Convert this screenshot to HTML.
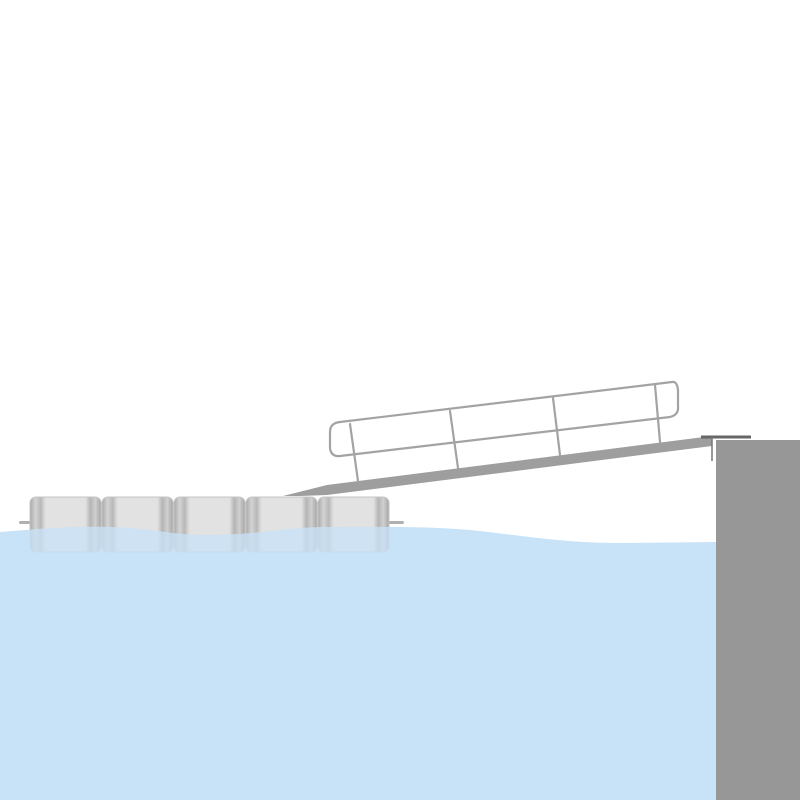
<!DOCTYPE html>
<html><head><style>html,body{margin:0;padding:0;background:#fff}svg{display:block}</style></head>
<body>
<svg width="800" height="800" viewBox="0 0 800 800" xmlns="http://www.w3.org/2000/svg">
<defs>
<linearGradient id="fg" x1="0" x2="1" y1="0" y2="0">
<stop offset="0" stop-color="#a9a9a9"/><stop offset="0.08" stop-color="#d4d4d4"/><stop offset="0.15" stop-color="#b8b8b8"/><stop offset="0.22" stop-color="#e2e2e2"/><stop offset="0.78" stop-color="#e2e2e2"/><stop offset="0.85" stop-color="#b5b5b5"/><stop offset="0.92" stop-color="#d0d0d0"/><stop offset="1" stop-color="#a5a5a5"/>
</linearGradient>
<path id="water" d="M0,532 C40,529 70,526 110,527 C150,528 170,535 210,535 C260,535 280,527 330,527 C380,527 420,526 470,530 C520,535 560,543 620,543 L716,542 L716,800 L0,800 Z"/>
<clipPath id="wc"><use href="#water"/></clipPath>
<g id="floats">
<rect x="30" y="497" width="71" height="55" rx="6" fill="url(#fg)" stroke="#c4c4c4"/>
<rect x="102" y="497" width="71" height="55" rx="6" fill="url(#fg)" stroke="#c4c4c4"/>
<rect x="174" y="497" width="71" height="55" rx="6" fill="url(#fg)" stroke="#c4c4c4"/>
<rect x="246" y="497" width="71" height="55" rx="6" fill="url(#fg)" stroke="#c4c4c4"/>
<rect x="318" y="497" width="71" height="55" rx="6" fill="url(#fg)" stroke="#c4c4c4"/>
</g>
</defs>
<rect x="19" y="521" width="385" height="3" rx="1.5" fill="#b0b0b0"/>
<use href="#floats"/>
<polygon points="283,496 327,485 712,436 712,446 327,495 300,496" fill="#9e9e9e"/>
<g fill="none" stroke="#a3a3a3" stroke-width="2.2" stroke-linecap="round">
<path d="M672,382 L340,422 Q330,423 330,432 L330,448 Q331,457 340,456 L670,417 Q679,415 678,406 L678,390 Q677,381 672,382 Z"/>
<line x1="350" y1="424" x2="358" y2="481"/>
<line x1="450" y1="411" x2="458" y2="468"/>
<line x1="553" y1="398" x2="560" y2="455"/>
<line x1="655" y1="385" x2="660" y2="442"/>
</g>
<use href="#water" fill="#c8e2f8"/>
<g clip-path="url(#wc)" opacity="0.22"><use href="#floats"/></g>
<rect x="716" y="440" width="84" height="360" fill="#979797"/>
<line x1="701" y1="437" x2="751" y2="437" stroke="#666" stroke-width="3"/>
<line x1="712" y1="437" x2="712" y2="461" stroke="#777" stroke-width="1.5"/>
</svg>
</body></html>
